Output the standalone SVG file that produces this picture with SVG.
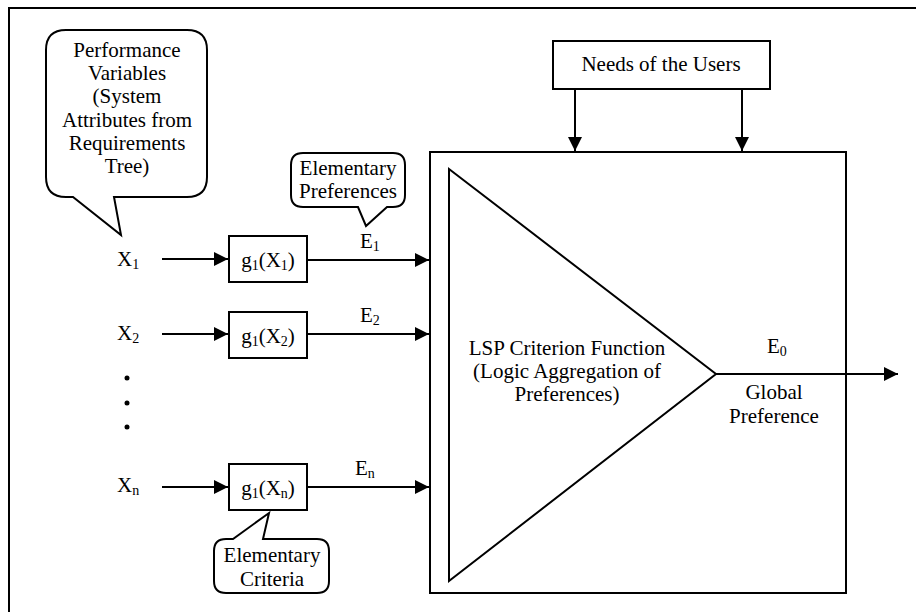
<svg xmlns="http://www.w3.org/2000/svg" width="916" height="612" viewBox="0 0 916 612">
<defs>
<style>
.t text{font-size:21px;fill:#000}
.s{stroke:#000;stroke-width:2;fill:#fff}
.l{stroke:#000;stroke-width:2;fill:none}
.c{text-anchor:middle}
.sub{font-size:14px}
</style>
<marker id="ah" viewBox="0 0 14 14" refX="14" refY="7" markerWidth="14" markerHeight="14" markerUnits="userSpaceOnUse" orient="auto">
<path d="M0,0 L14,7 L0,14 Z" fill="#000"/>
</marker>
</defs>
<rect width="916" height="612" fill="#fff"/>
<rect x="9" y="8" width="1000" height="700" class="l"/>
<g class="t" font-family="'Times New Roman', Times, 'Liberation Serif', 'DejaVu Serif', serif">

<g id="perf-callout">
<path class="s" d="M66,30 H187 Q207,30 207,50 V177 Q207,197 187,197 H114 L121,235 L73,197 H66 Q46,197 46,177 V50 Q46,30 66,30 Z"/>
<text class="c" x="127" y="57">Performance</text>
<text class="c" x="127" y="80">Variables</text>
<text class="c" x="127" y="103">(System</text>
<text class="c" x="127" y="127">Attributes from</text>
<text class="c" x="127" y="150">Requirements</text>
<text class="c" x="127" y="173">Tree)</text>
</g>

<g id="pref-callout">
<path class="s" d="M303,153 H393 Q405,153 405,165 V195 Q405,207 393,207 H387 L366,226 L358,207 H303 Q291,207 291,195 V165 Q291,153 303,153 Z"/>
<text class="c" x="348" y="175">Elementary</text>
<text class="c" x="348" y="198">Preferences</text>
</g>

<g id="crit-callout">
<path class="s" d="M226,539 H233 L269,513 L263,539 H317 Q329,539 329,551 V581 Q329,593 317,593 H226 Q214,593 214,581 V551 Q214,539 226,539 Z"/>
<text class="c" x="272" y="562">Elementary</text>
<text class="c" x="272" y="586">Criteria</text>
</g>

<g id="x1"><text x="117" y="266">X<tspan class="sub" dy="3">1</tspan></text></g>
<g id="x2"><text x="117" y="340">X<tspan class="sub" dy="3">2</tspan></text></g>
<g id="dots">
<circle cx="127" cy="378" r="2.5" fill="#000"/>
<circle cx="127" cy="403" r="2.5" fill="#000"/>
<circle cx="127" cy="427" r="2.5" fill="#000"/>
</g>
<g id="xn"><text x="117" y="492">X<tspan class="sub" dy="3">n</tspan></text></g>

<g id="g1"><rect class="s" x="229" y="236" width="78" height="46"/><text class="c" x="268" y="267">g<tspan class="sub" dy="3">1</tspan><tspan dy="-3">(X</tspan><tspan class="sub" dy="3">1</tspan><tspan dy="-3">)</tspan></text></g>
<g id="g2"><rect class="s" x="229" y="312" width="78" height="46"/><text class="c" x="268" y="343">g<tspan class="sub" dy="3">1</tspan><tspan dy="-3">(X</tspan><tspan class="sub" dy="3">2</tspan><tspan dy="-3">)</tspan></text></g>
<g id="gn"><rect class="s" x="229" y="464" width="78" height="46"/><text class="c" x="268" y="495">g<tspan class="sub" dy="3">1</tspan><tspan dy="-3">(X</tspan><tspan class="sub" dy="3">n</tspan><tspan dy="-3">)</tspan></text></g>

<g id="needs"><rect class="s" x="553" y="41" width="217" height="48"/><text class="c" x="661" y="71">Needs of the Users</text></g>

<g id="lsp">
<rect class="s" x="430" y="152" width="416" height="441"/>
<path class="l" d="M449,169 L716,374 L449,581 Z"/>
<text class="c" x="567" y="355">LSP Criterion Function</text>
<text class="c" x="567" y="378">(Logic Aggregation of</text>
<text class="c" x="567" y="401">Preferences)</text>
</g>

<g id="connectors">
<line class="l" x1="162" y1="259" x2="228" y2="259" marker-end="url(#ah)"/>
<line class="l" x1="162" y1="334" x2="228" y2="334" marker-end="url(#ah)"/>
<line class="l" x1="162" y1="487" x2="228" y2="487" marker-end="url(#ah)"/>
<line class="l" x1="307" y1="260" x2="429" y2="260" marker-end="url(#ah)"/>
<line class="l" x1="307" y1="334" x2="429" y2="334" marker-end="url(#ah)"/>
<line class="l" x1="307" y1="487" x2="429" y2="487" marker-end="url(#ah)"/>
<line class="l" x1="575" y1="89" x2="575" y2="151" marker-end="url(#ah)"/>
<line class="l" x1="742" y1="89" x2="742" y2="151" marker-end="url(#ah)"/>
<line class="l" x1="716" y1="374" x2="898" y2="374" marker-end="url(#ah)"/>
</g>

<g id="labels">
<text x="360" y="248">E<tspan class="sub" dy="3">1</tspan></text>
<text x="360" y="322">E<tspan class="sub" dy="3">2</tspan></text>
<text x="355" y="475">E<tspan class="sub" dy="3">n</tspan></text>
<text x="767" y="353">E<tspan class="sub" dy="3">0</tspan></text>
<text class="c" x="774" y="399">Global</text>
<text class="c" x="774" y="423">Preference</text>
</g>
</g>
</svg>
